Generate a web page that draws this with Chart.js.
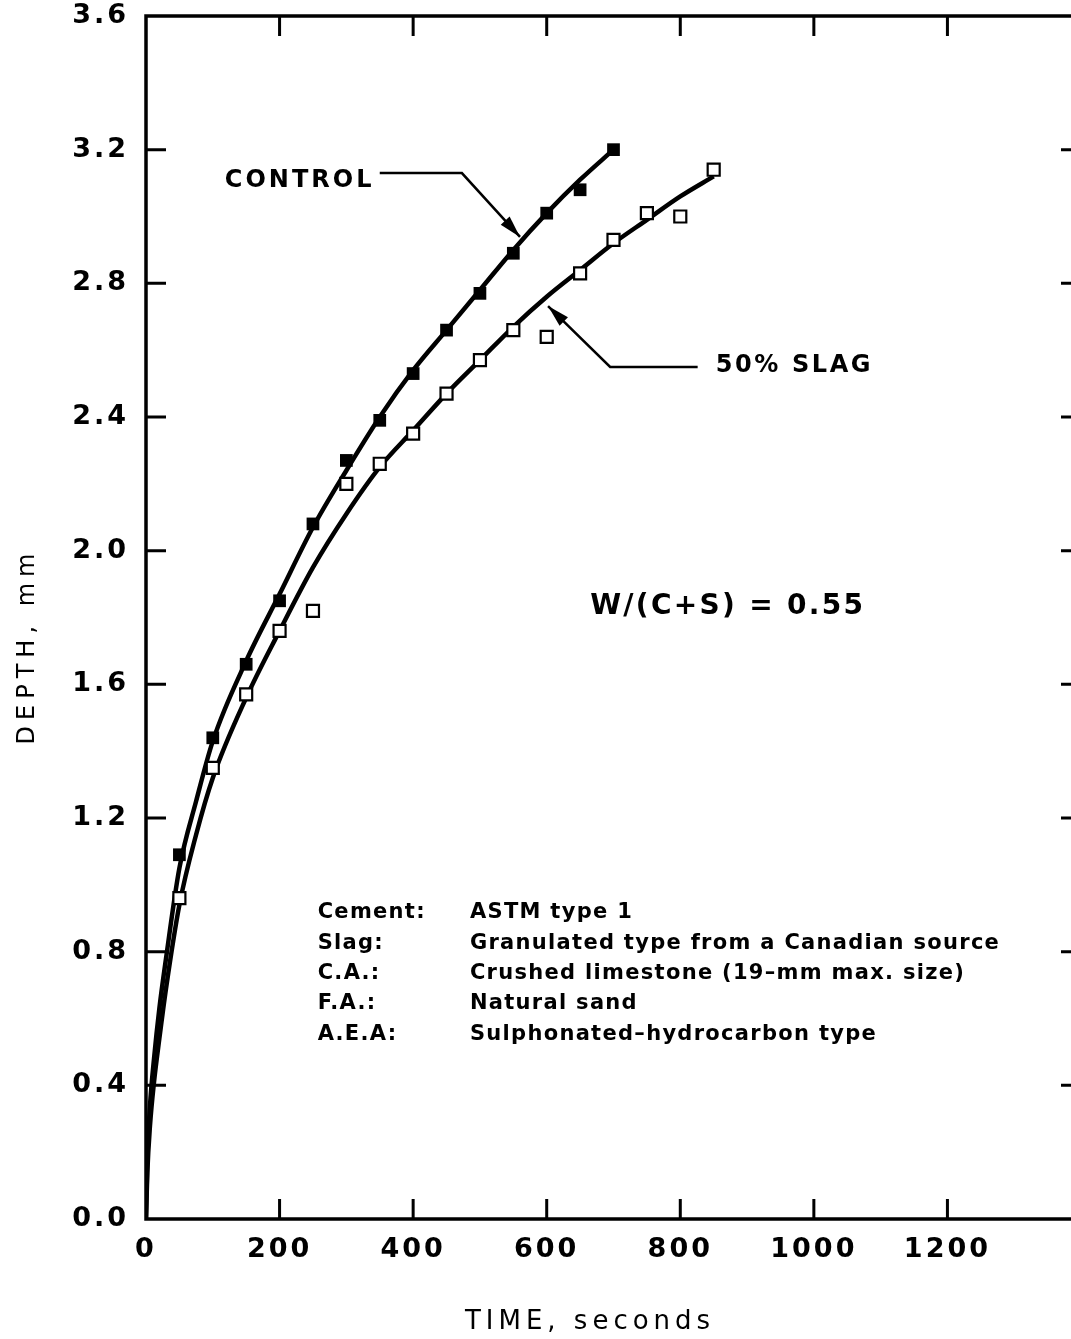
<!DOCTYPE html>
<html>
<head>
<title>Depth vs time</title>
<script src="https://cdn.jsdelivr.net/npm/chart.js"></script>
<style>
  html, body { margin: 0; padding: 0; background: #fff; overflow: hidden; }
</style>
</head>
<body>
<canvas id="chart" width="1100" height="1339"></canvas>
<script>
// axis ticks
const xTicks = [0, 200, 400, 600, 800, 1000, 1200, 1400];
const yTicks = [0.0, 0.4, 0.8, 1.2, 1.6, 2.0, 2.4, 2.8, 3.2, 3.6];

// measured points
const controlTime  = [50, 100, 150, 200, 250, 300, 350, 400, 450, 500, 550, 600, 650, 700];
const controlDepth = [1.09, 1.44, 1.66, 1.85, 2.08, 2.27, 2.39, 2.53, 2.66, 2.77, 2.89, 3.01, 3.08, 3.20];
const slagTime  = [50, 100, 150, 200, 250, 300, 350, 400, 450, 500, 550, 600, 650, 700, 750, 800, 850];
const slagDepth = [0.96, 1.35, 1.57, 1.76, 1.82, 2.20, 2.26, 2.35, 2.47, 2.57, 2.66, 2.64, 2.83, 2.93, 3.01, 3.00, 3.14];

// fitted curves
const controlFitTime  = [0, 2, 6, 12, 20, 30, 50, 75, 100, 150, 200, 250, 300, 350, 400, 450, 500, 550, 600, 650, 700];
const controlFitDepth = [0, 0.18, 0.34, 0.48, 0.63, 0.78, 1.05, 1.25, 1.43, 1.67, 1.87, 2.07, 2.24, 2.40, 2.54, 2.66, 2.78, 2.90, 3.01, 3.11, 3.20];
const slagFitTime  = [0, 2, 6, 12, 20, 30, 50, 75, 100, 150, 200, 250, 300, 350, 400, 450, 500, 550, 600, 650, 700, 750, 800, 850];
const slagFitDepth = [0, 0.14, 0.28, 0.41, 0.54, 0.69, 0.94, 1.15, 1.32, 1.56, 1.76, 1.95, 2.11, 2.25, 2.36, 2.47, 2.57, 2.67, 2.76, 2.84, 2.92, 2.99, 3.06, 3.12];

const materialKeys = ['Cement:', 'Slag:', 'C.A.:', 'F.A.:', 'A.E.A:'];
const materialVals = ['ASTM type 1', 'Granulated type from a Canadian source',
  'Crushed limestone (19\u2013mm max. size)', 'Natural sand', 'Sulphonated\u2013hydrocarbon type'];

const toXY = (xs, ys) => xs.map((v, i) => ({ x: v, y: ys[i] }));
const FONT = 'DejaVu Sans';
const tickFont = { family: FONT, size: 27, weight: 'bold' };

function drawText(ctx, text, px, py, size, weight, spacing, align) {
  ctx.font = weight + ' ' + size + 'px "' + FONT + '"';
  ctx.letterSpacing = spacing + 'px';
  ctx.textAlign = align || 'left';
  ctx.textBaseline = 'middle';
  ctx.fillStyle = '#000';
  ctx.fillText(text, px, py);
}

function drawArrow(ctx, pts) {
  ctx.beginPath();
  ctx.moveTo(pts[0][0], pts[0][1]);
  for (let i = 1; i < pts.length; i++) ctx.lineTo(pts[i][0], pts[i][1]);
  ctx.lineWidth = 2.5;
  ctx.stroke();
  const [ax, ay] = pts[pts.length - 2];
  const [bx, by] = pts[pts.length - 1];
  const ang = Math.atan2(by - ay, bx - ax);
  const len = 22, half = 6;
  ctx.beginPath();
  ctx.moveTo(bx, by);
  ctx.lineTo(bx - len * Math.cos(ang) + half * Math.sin(ang), by - len * Math.sin(ang) - half * Math.cos(ang));
  ctx.lineTo(bx - len * Math.cos(ang) - half * Math.sin(ang), by - len * Math.sin(ang) + half * Math.cos(ang));
  ctx.closePath();
  ctx.fill();
}

const framePlugin = {
  id: 'frame',
  beforeDraw(chart) {
    chart.ctx.letterSpacing = '3px';
  },
  afterDraw(chart) {
    const { ctx, chartArea: a, scales: { x, y } } = chart;
    const X = v => x.getPixelForValue(v);
    const Y = v => y.getPixelForValue(v);
    ctx.save();
    ctx.letterSpacing = '0px';
    ctx.strokeStyle = '#000';
    ctx.fillStyle = '#000';

    // frame
    ctx.lineWidth = 3.5;
    ctx.lineCap = 'square';
    ctx.strokeRect(a.left, a.top, a.right - a.left, a.bottom - a.top);

    // inward ticks on all four sides
    const TL = 20;
    ctx.lineWidth = 3;
    ctx.lineCap = 'butt';
    ctx.beginPath();
    xTicks.forEach(v => {
      if (v === 0) return;
      const px = X(v);
      ctx.moveTo(px, a.bottom); ctx.lineTo(px, a.bottom - TL);
      ctx.moveTo(px, a.top); ctx.lineTo(px, a.top + TL);
    });
    yTicks.forEach(v => {
      if (v === 0 || v === 3.6) return;
      const py = Y(v);
      ctx.moveTo(a.left, py); ctx.lineTo(a.left + TL, py);
      ctx.moveTo(a.right, py); ctx.lineTo(a.right - TL, py);
    });
    ctx.stroke();

    // series labels with leader arrows
    drawText(ctx, 'CONTROL', X(118), Y(3.106), 24, 'bold', 3);
    drawArrow(ctx, [[X(350), Y(3.13)], [X(473), Y(3.13)], [X(560), Y(2.939)]]);
    drawText(ctx, '50% SLAG', X(853), Y(2.553), 24, 'bold', 2.6);
    drawArrow(ctx, [[X(826), Y(2.55)], [X(695), Y(2.55)], [X(602), Y(2.732)]]);

    drawText(ctx, 'W/(C+S) = 0.55', X(665), Y(1.831), 28, 'bold', 2.3);

    // materials block
    const top = Y(0.916);
    materialKeys.forEach((k, i) => {
      drawText(ctx, k, X(257), top + i * 30.3, 21, 'bold', 1.3);
      drawText(ctx, materialVals[i], X(485), top + i * 30.3, 21, 'bold', 1.3);
    });

    // axis titles
    drawText(ctx, 'TIME, seconds', 590, 1322, 26, 'normal', 5, 'center');
    ctx.save();
    ctx.translate(28, 646);
    ctx.rotate(-Math.PI / 2);
    drawText(ctx, 'DEPTH, mm', 0, 0, 24, 'normal', 6, 'center');
    ctx.restore();

    ctx.restore();
  }
};

new Chart(document.getElementById('chart'), {
  type: 'scatter',
  data: {
    datasets: [
      { label: 'CONTROL', data: toXY(controlTime, controlDepth), showLine: false,
        pointStyle: 'rect', pointRadius: 9, backgroundColor: '#000', borderColor: '#000', borderWidth: 0 },
      { label: '50% SLAG', data: toXY(slagTime, slagDepth), showLine: false,
        pointStyle: 'rect', pointRadius: 8.5, backgroundColor: '#fff', borderColor: '#000', borderWidth: 2.2 },
      { label: 'CONTROL fit', data: toXY(controlFitTime, controlFitDepth), showLine: true,
        pointRadius: 0, borderColor: '#000', borderWidth: 4.5, cubicInterpolationMode: 'monotone', fill: false },
      { label: '50% SLAG fit', data: toXY(slagFitTime, slagFitDepth), showLine: true,
        pointRadius: 0, borderColor: '#000', borderWidth: 4.5, cubicInterpolationMode: 'monotone', fill: false }
    ]
  },
  options: {
    responsive: false,
    animation: false,
    devicePixelRatio: 1,
    layout: { padding: { top: 16, right: 19, left: 0, bottom: 0 } },
    plugins: { legend: { display: false }, tooltip: { enabled: false } },
    scales: {
      x: {
        type: 'linear', min: 0, max: 1400,
        afterBuildTicks: s => { s.ticks = xTicks.map(v => ({ value: v })); },
        afterFit: s => { s.height = 120; s.paddingLeft = 0; s.paddingRight = 0; },
        grid: { display: false, drawTicks: false },
        border: { display: false },
        ticks: { font: tickFont, color: '#000', padding: 15, maxRotation: 0, autoSkip: false,
          callback: v => (v === 1400 ? '' : String(v)) }
      },
      y: {
        type: 'linear', min: 0, max: 3.6,
        afterBuildTicks: s => { s.ticks = yTicks.map(v => ({ value: v })); },
        afterFit: s => { s.width = 146; s.paddingTop = 0; s.paddingBottom = 0; },
        grid: { display: false, drawTicks: false },
        border: { display: false },
        ticks: { font: tickFont, color: '#000', padding: 17, autoSkip: false,
          callback: v => v.toFixed(1) }
      }
    }
  },
  plugins: [framePlugin]
});
</script>
</body>
</html>
